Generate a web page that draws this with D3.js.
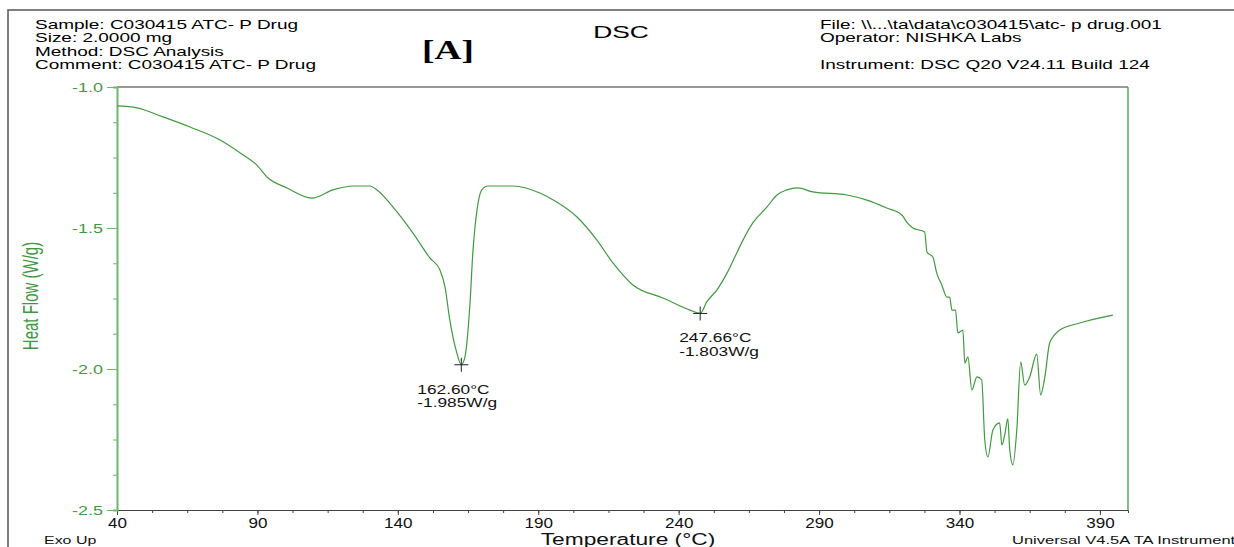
<!DOCTYPE html>
<html>
<head>
<meta charset="utf-8">
<script src="https://cdn.jsdelivr.net/npm/d3@7"></script>
<style>
  body { margin: 0; background: #fff; }
  svg text { font-family: "Liberation Sans", Arial, sans-serif; }
</style>
</head>
<body>
<script>
// DSC curve
var temps = [40, 47.1, 56.4, 66, 76.7, 84.9, 89.8, 93.4, 100.5, 109.4, 116.9, 124, 130, 132.6,
  138.3, 145.4, 151.4, 155, 156.8, 158.5, 161, 162.6, 163.9, 165.7, 166.7, 168.2, 169.9,
  172.1, 181, 190.6, 196.6, 203.8, 210.9, 216.6, 223.7, 234.4, 244, 247.66, 250, 253.6,
  257.2, 260, 262.9, 266.4, 271.4, 275, 278.5, 282.4, 287.8, 299.9, 307, 314.1, 319.5,
  321.2, 323.4, 327.6, 328.4, 330.5, 331.9, 333.7, 335.5, 336.5, 337.3, 338.6, 339.4,
  341.2, 341.9, 343, 344.4, 346.2, 347.9, 349, 350.1, 351.9, 354.3, 355.1, 356.1, 357.2,
  357.9, 359, 360.4, 361.8, 363.2, 365, 367.5, 368.9, 370.4, 372.1, 375.7, 382.8, 394.6];
var heatFlow = [-1.067, -1.074, -1.106, -1.142, -1.188, -1.241, -1.277, -1.319, -1.358, -1.394,
  -1.365, -1.351, -1.351, -1.365, -1.426, -1.518, -1.606, -1.649, -1.709, -1.826, -1.943,
  -1.985, -1.957, -1.766, -1.589, -1.436, -1.365, -1.351, -1.351, -1.376, -1.408, -1.461,
  -1.543, -1.624, -1.702, -1.748, -1.791, -1.803, -1.762, -1.720, -1.660, -1.603, -1.543,
  -1.482, -1.426, -1.383, -1.365, -1.358, -1.372, -1.383, -1.401, -1.429, -1.454, -1.479,
  -1.5, -1.514, -1.585, -1.603, -1.660, -1.702, -1.745, -1.745, -1.791, -1.791, -1.872,
  -1.862, -1.979, -1.957, -2.074, -2.028, -2.039, -2.252, -2.312, -2.216, -2.191, -2.27,
  -2.234, -2.177, -2.287, -2.34, -2.216, -1.975, -2.057, -2.028, -1.947, -2.092, -2.028,
  -1.908, -1.862, -1.837, -1.809];

var xTicks = [40, 90, 140, 190, 240, 290, 340, 390];
var yTicks = [-1.0, -1.5, -2.0, -2.5];

var peakTemps = [162.60, 247.66];
var peakFlows = [-1.985, -1.803];

var headerLeft = ["Sample: C030415 ATC- P Drug", "Size:  2.0000 mg", "Method: DSC Analysis", "Comment: C030415 ATC- P Drug"];
var headerRight = ["File: \\\\...\\ta\\data\\c030415\\atc- p drug.001", "Operator: NISHKA Labs", "", "Instrument: DSC Q20 V24.11 Build 124"];

var W = 1234, H = 547;
var margin = {top: 87, right: 106, bottom: 37, left: 117},
  width = W - margin.left - margin.right,
  height = H - margin.top - margin.bottom;

var green = "#3f9a3f", axisGreen = "#6cb86c";

// the reference text is drawn wide, so stretch glyphs horizontally
function widen(sel, k) {
  sel.each(function () {
    var w = this.getComputedTextLength();
    if (w > 0) d3.select(this).attr("textLength", w * k).attr("lengthAdjust", "spacingAndGlyphs");
  });
}

var svg = d3.select("body").append("svg")
  .attr("width", W)
  .attr("height", H);

// outer frame
svg.append("path")
  .attr("d", "M8,547V10H1234")
  .attr("fill", "none")
  .attr("stroke", "#555")
  .attr("stroke-width", 1.5);

// header text
svg.selectAll(".hl").data(headerLeft).enter().append("text")
  .attr("x", 35)
  .attr("y", function (d, i) { return 29 + i * 13.3; })
  .attr("font-size", 13)
  .text(function (d) { return d; })
  .call(widen, 1.46);

svg.selectAll(".hr").data(headerRight).enter().append("text")
  .attr("x", 820)
  .attr("y", function (d, i) { return 29 + i * 13.3; })
  .attr("font-size", 13)
  .text(function (d) { return d; })
  .call(widen, 1.46);

svg.append("text")
  .attr("x", 621).attr("y", 38)
  .attr("text-anchor", "middle")
  .attr("font-size", 17)
  .text("DSC")
  .call(widen, 1.55);

svg.append("text")
  .attr("x", 448).attr("y", 59)
  .attr("text-anchor", "middle")
  .attr("font-size", 27)
  .attr("font-weight", "bold")
  .style("font-family", "'Liberation Serif', 'Times New Roman', serif")
  .text("[A]")
  .call(widen, 1.38);

var g = svg.append("g")
  .attr("transform", "translate(" + margin.left + "," + margin.top + ")");

var x = d3.scaleLinear().domain([40, 400]).range([0, width]);
var y = d3.scaleLinear().domain([-2.5, -1.0]).range([height, 0]);

// top and right borders
g.append("line").attr("x1", 0).attr("x2", width).attr("y1", 0).attr("y2", 0)
  .attr("stroke", "#333").attr("stroke-width", 1);
g.append("line").attr("x1", width).attr("x2", width).attr("y1", 0).attr("y2", height)
  .attr("stroke", green).attr("stroke-width", 1.3);

// x axis: minor + major
g.append("g")
  .attr("transform", "translate(0," + height + ")")
  .call(d3.axisBottom(x).tickValues(d3.range(40, 400.1, 12.5)).tickSize(3).tickFormat(""))
  .call(function (a) {
    a.select(".domain").attr("stroke", "#444");
    a.selectAll("line").attr("stroke", "#444");
  });
g.append("g")
  .attr("transform", "translate(0," + height + ")")
  .call(d3.axisBottom(x).tickValues(xTicks).tickSize(5).tickPadding(3)
    .tickFormat(function (d) { return d; }))
  .call(function (a) {
    a.select(".domain").remove();
    a.selectAll("line").attr("stroke", "#444");
    a.selectAll("text").attr("font-size", 14).attr("fill", "#111")
      .style("font-family", "'Liberation Sans', Arial, sans-serif")
      .call(widen, 1.22);
  });

// y axis: minor + major
g.append("g")
  .call(d3.axisLeft(y).tickValues(d3.range(-2.5, -0.99, 0.125)).tickSize(4).tickFormat(""))
  .call(function (a) {
    a.select(".domain").attr("stroke", axisGreen).attr("stroke-width", 2);
    a.selectAll("line").attr("stroke", axisGreen);
  });
g.append("g")
  .call(d3.axisLeft(y).tickValues(yTicks).tickSize(10).tickPadding(4)
    .tickFormat(function (d) { return d.toFixed(1); }))
  .call(function (a) {
    a.select(".domain").remove();
    a.selectAll("line").attr("stroke", axisGreen);
    a.selectAll("text").attr("font-size", 13).attr("fill", green)
      .style("font-family", "'Liberation Sans', Arial, sans-serif")
      .call(widen, 1.38);
  });

// curve
var pts = temps.map(function (t, i) { return [t, heatFlow[i]]; });
g.append("path")
  .datum(pts)
  .attr("fill", "none")
  .attr("stroke", green)
  .attr("stroke-width", 1.2)
  .attr("stroke-linejoin", "round")
  .attr("d", d3.line()
    .curve(d3.curveMonotoneX)
    .x(function (d) { return x(d[0]); })
    .y(function (d) { return y(d[1]); }));

// peak markers
var labelDx = [-44, -21];
peakTemps.forEach(function (t, i) {
  var px = x(t), py = y(peakFlows[i]);
  g.append("path")
    .attr("d", "M" + (px - 7) + "," + py + "H" + (px + 7) + "M" + px + "," + (py - 7) + "V" + (py + 7))
    .attr("stroke", "#222").attr("stroke-width", 1);
  [t.toFixed(2) + "°C", peakFlows[i].toFixed(3) + "W/g"].forEach(function (s, j) {
    g.append("text")
      .attr("x", px + labelDx[i])
      .attr("y", py + 29 + j * 13.5)
      .attr("font-size", 13)
      .attr("fill", "#111")
      .text(s)
      .call(widen, 1.33);
  });
});

// axis titles and footer
svg.append("text")
  .attr("transform", "translate(38,296) scale(1.45,1) rotate(-90)")
  .attr("text-anchor", "middle")
  .attr("font-size", 15)
  .attr("fill", green)
  .text("Heat Flow (W/g)");

svg.append("text")
  .attr("x", 628).attr("y", 545)
  .attr("text-anchor", "middle")
  .attr("font-size", 16)
  .attr("fill", "#111")
  .text("Temperature (°C)")
  .call(widen, 1.42);

svg.append("text")
  .attr("x", 44).attr("y", 544)
  .attr("font-size", 11)
  .attr("fill", "#111")
  .text("Exo Up")
  .call(widen, 1.45);

svg.append("text")
  .attr("x", 1012).attr("y", 544)
  .attr("font-size", 11)
  .attr("fill", "#111")
  .text("Universal V4.5A TA Instruments")
  .call(widen, 1.5);
</script>
</body>
</html>
